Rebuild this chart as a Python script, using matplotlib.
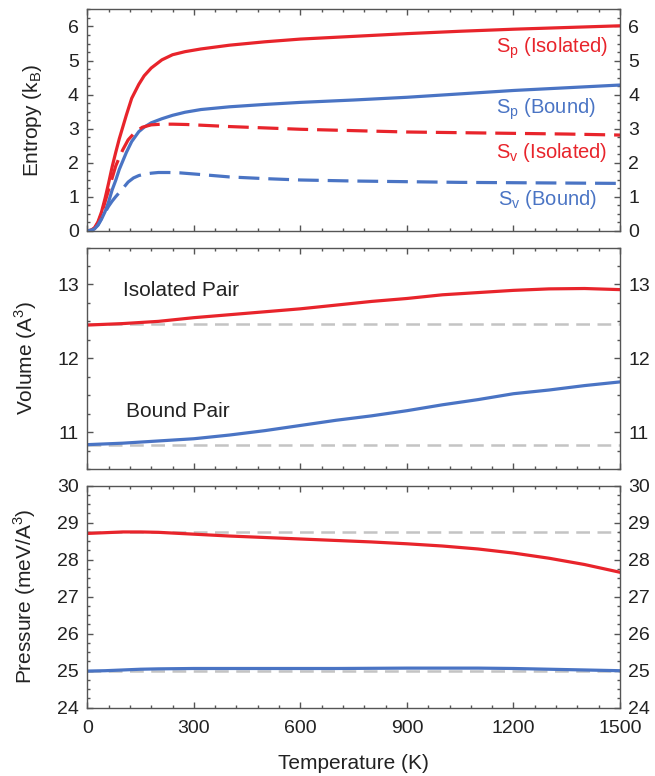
import numpy as np
import matplotlib.pyplot as plt
from matplotlib.ticker import MultipleLocator

plt.rcParams['font.family'] = ['Liberation Sans', 'DejaVu Sans']
plt.rcParams['mathtext.fontset'] = 'custom'
plt.rcParams['mathtext.rm'] = 'Liberation Sans'

RED = '#e8242b'
BLUE = '#4a74c4'
GREY = '#c4c4c4'
TXT = '#222222'

# Entropy (k_B) vs temperature
T_sp = [0, 10, 20, 30, 40, 50, 60, 70, 80, 90, 100, 110, 125, 145, 160, 180, 210,
        240, 275, 320, 400, 500, 600, 750, 900, 1050, 1200, 1350, 1500]
sp_iso = [0, 0.01, 0.08, 0.26, 0.55, 0.95, 1.4, 1.88, 2.3, 2.7, 3.05, 3.4, 3.89,
          4.3, 4.55, 4.78, 5.02, 5.17, 5.26, 5.34, 5.45, 5.55, 5.63, 5.71, 5.79,
          5.86, 5.92, 5.97, 6.02]
sp_bnd = [0, 0.01, 0.06, 0.16, 0.34, 0.56, 0.85, 1.2, 1.48, 1.8, 2.05, 2.3, 2.62,
          2.91, 3.04, 3.17, 3.29, 3.39, 3.48, 3.56, 3.64, 3.71, 3.77, 3.84, 3.92,
          4.02, 4.12, 4.2, 4.28]

T_sv_iso = [0, 10, 20, 30, 40, 50, 60, 70, 80, 90, 100, 115, 135, 155, 180, 210,
            240, 280, 320, 400, 500, 600, 750, 900, 1050, 1200, 1350, 1500]
sv_iso = [0, 0.01, 0.07, 0.22, 0.5, 0.85, 1.2, 1.55, 1.9, 2.15, 2.38, 2.67, 2.9,
          3.04, 3.11, 3.13, 3.13, 3.12, 3.1, 3.06, 3.02, 2.98, 2.94, 2.9, 2.88,
          2.86, 2.84, 2.81]
T_sv_bnd = [0, 10, 20, 30, 40, 50, 60, 70, 80, 90, 100, 115, 130, 145, 160, 180,
            200, 230, 260, 320, 400, 500, 600, 750, 900, 1050, 1200, 1350, 1500]
sv_bnd = [0, 0.01, 0.05, 0.17, 0.36, 0.54, 0.72, 0.87, 1.0, 1.12, 1.24, 1.43, 1.55,
          1.62, 1.66, 1.69, 1.71, 1.71, 1.7, 1.65, 1.58, 1.53, 1.49, 1.46, 1.44,
          1.42, 1.41, 1.40, 1.39]

# Volume (A^3)
T_v = [0, 100, 200, 300, 400, 500, 600, 700, 800, 900, 1000, 1100, 1200, 1300,
       1400, 1500]
vol_iso = [12.45, 12.47, 12.50, 12.55, 12.59, 12.63, 12.67, 12.72, 12.77, 12.81,
           12.86, 12.89, 12.92, 12.94, 12.945, 12.93]
vol_bnd = [10.83, 10.85, 10.88, 10.91, 10.96, 11.02, 11.09, 11.16, 11.22, 11.29,
           11.37, 11.44, 11.52, 11.57, 11.63, 11.68]
vol_ref = [12.46, 10.82]

# Pressure (meV/A^3)
T_p_iso = [0, 50, 100, 150, 200, 300, 400, 500, 600, 700, 800, 900, 1000, 1100,
           1200, 1300, 1400, 1500]
p_iso = [28.71, 28.73, 28.75, 28.75, 28.74, 28.69, 28.64, 28.60, 28.56, 28.52,
         28.48, 28.43, 28.37, 28.29, 28.18, 28.04, 27.87, 27.66]
T_p_bnd = [0, 50, 100, 150, 200, 300, 500, 700, 900, 1100, 1200, 1300, 1400, 1500]
p_bnd = [24.99, 25.0, 25.02, 25.04, 25.05, 25.06, 25.06, 25.06, 25.07, 25.07,
         25.06, 25.04, 25.02, 25.0]
p_ref = [28.75, 25.0]

fig = plt.figure(figsize=(6.55, 7.76), dpi=100)
left, width = 0.1333, 0.8133
ax1 = fig.add_axes([left, 0.7027, width, 0.2851])
ax2 = fig.add_axes([left, 0.3956, width, 0.2854])
ax3 = fig.add_axes([left, 0.0880, width, 0.2861])

lw = 2.3
dash = (6.5, 2.8)
ax1.plot(T_sp, sp_iso, color=RED, lw=lw, solid_capstyle='round')
ax1.plot(T_sp, sp_bnd, color=BLUE, lw=lw, solid_capstyle='round')
ax1.plot(T_sv_iso, sv_iso, color=RED, lw=lw, dashes=dash)
ax1.plot(T_sv_bnd, sv_bnd, color=BLUE, lw=lw, dashes=dash)
ax1.set_ylim(0, 6.5)
ax1.set_ylabel(r'Entropy (k$_\mathregular{B}$)', fontsize=15, color=TXT)
ax1.yaxis.set_label_coords(-0.081, 0.5)

lab = dict(fontsize=14.5, ha='right', va='baseline')
ax1.text(1466, 5.22, r'S$_\mathregular{p}$ (Isolated)', color=RED, **lab)
ax1.text(1432, 3.45, r'S$_\mathregular{p}$ (Bound)', color=BLUE, **lab)
ax1.text(1463, 2.15, r'S$_\mathregular{v}$ (Isolated)', color=RED, **lab)
ax1.text(1434, 0.76, r'S$_\mathregular{v}$ (Bound)', color=BLUE, **lab)

# reference (zero-temperature) levels as grey dashes
gdash = (5.5, 3.0)
for v in vol_ref:
    ax2.axhline(v, color=GREY, lw=1.8, dashes=gdash, zorder=1)
ax2.plot(T_v, vol_iso, color=RED, lw=lw, zorder=2)
ax2.plot(T_v, vol_bnd, color=BLUE, lw=lw, zorder=2)
ax2.set_ylim(10.5, 13.5)
ax2.set_ylabel(r'Volume (A$^\mathregular{3}$)', fontsize=15, color=TXT)
ax2.yaxis.set_label_coords(-0.090, 0.5)
ax2.text(100, 12.85, 'Isolated Pair', fontsize=15, color=TXT, va='baseline')
ax2.text(108, 11.21, 'Bound Pair', fontsize=15, color=TXT, va='baseline')

for p in p_ref:
    ax3.axhline(p, color=GREY, lw=1.8, dashes=gdash, zorder=1)
ax3.plot(T_p_iso, p_iso, color=RED, lw=lw, zorder=2)
ax3.plot(T_p_bnd, p_bnd, color=BLUE, lw=lw, zorder=2)
ax3.set_ylim(24, 30)
ax3.set_ylabel(r'Pressure (meV/A$^\mathregular{3}$)', fontsize=15, color=TXT)
ax3.yaxis.set_label_coords(-0.092, 0.5)
ax3.set_xlabel('Temperature (K)', fontsize=15, color=TXT, labelpad=12)

for ax in (ax1, ax2, ax3):
    ax.set_xlim(0, 1500)
    ax.xaxis.set_major_locator(MultipleLocator(300))
    ax.xaxis.set_minor_locator(MultipleLocator(60))
    ax.yaxis.set_major_locator(MultipleLocator(1))
    ax.yaxis.set_minor_locator(MultipleLocator(0.25))
    ax.tick_params(which='both', direction='in', top=True, right=True,
                   labelright=True, labelsize=14, colors='#555555',
                   labelcolor=TXT, width=1.0)
    ax.tick_params(which='major', length=4.5)
    ax.tick_params(which='minor', length=2.5)
    ax.tick_params(axis='y', which='major', pad=6)
    ax.tick_params(axis='x', which='major', pad=9)
    for s in ax.spines.values():
        s.set_color('#555555')
        s.set_linewidth(1.0)
ax1.tick_params(labelbottom=False)
ax2.tick_params(labelbottom=False)

fig.savefig('out.png', dpi=100)
